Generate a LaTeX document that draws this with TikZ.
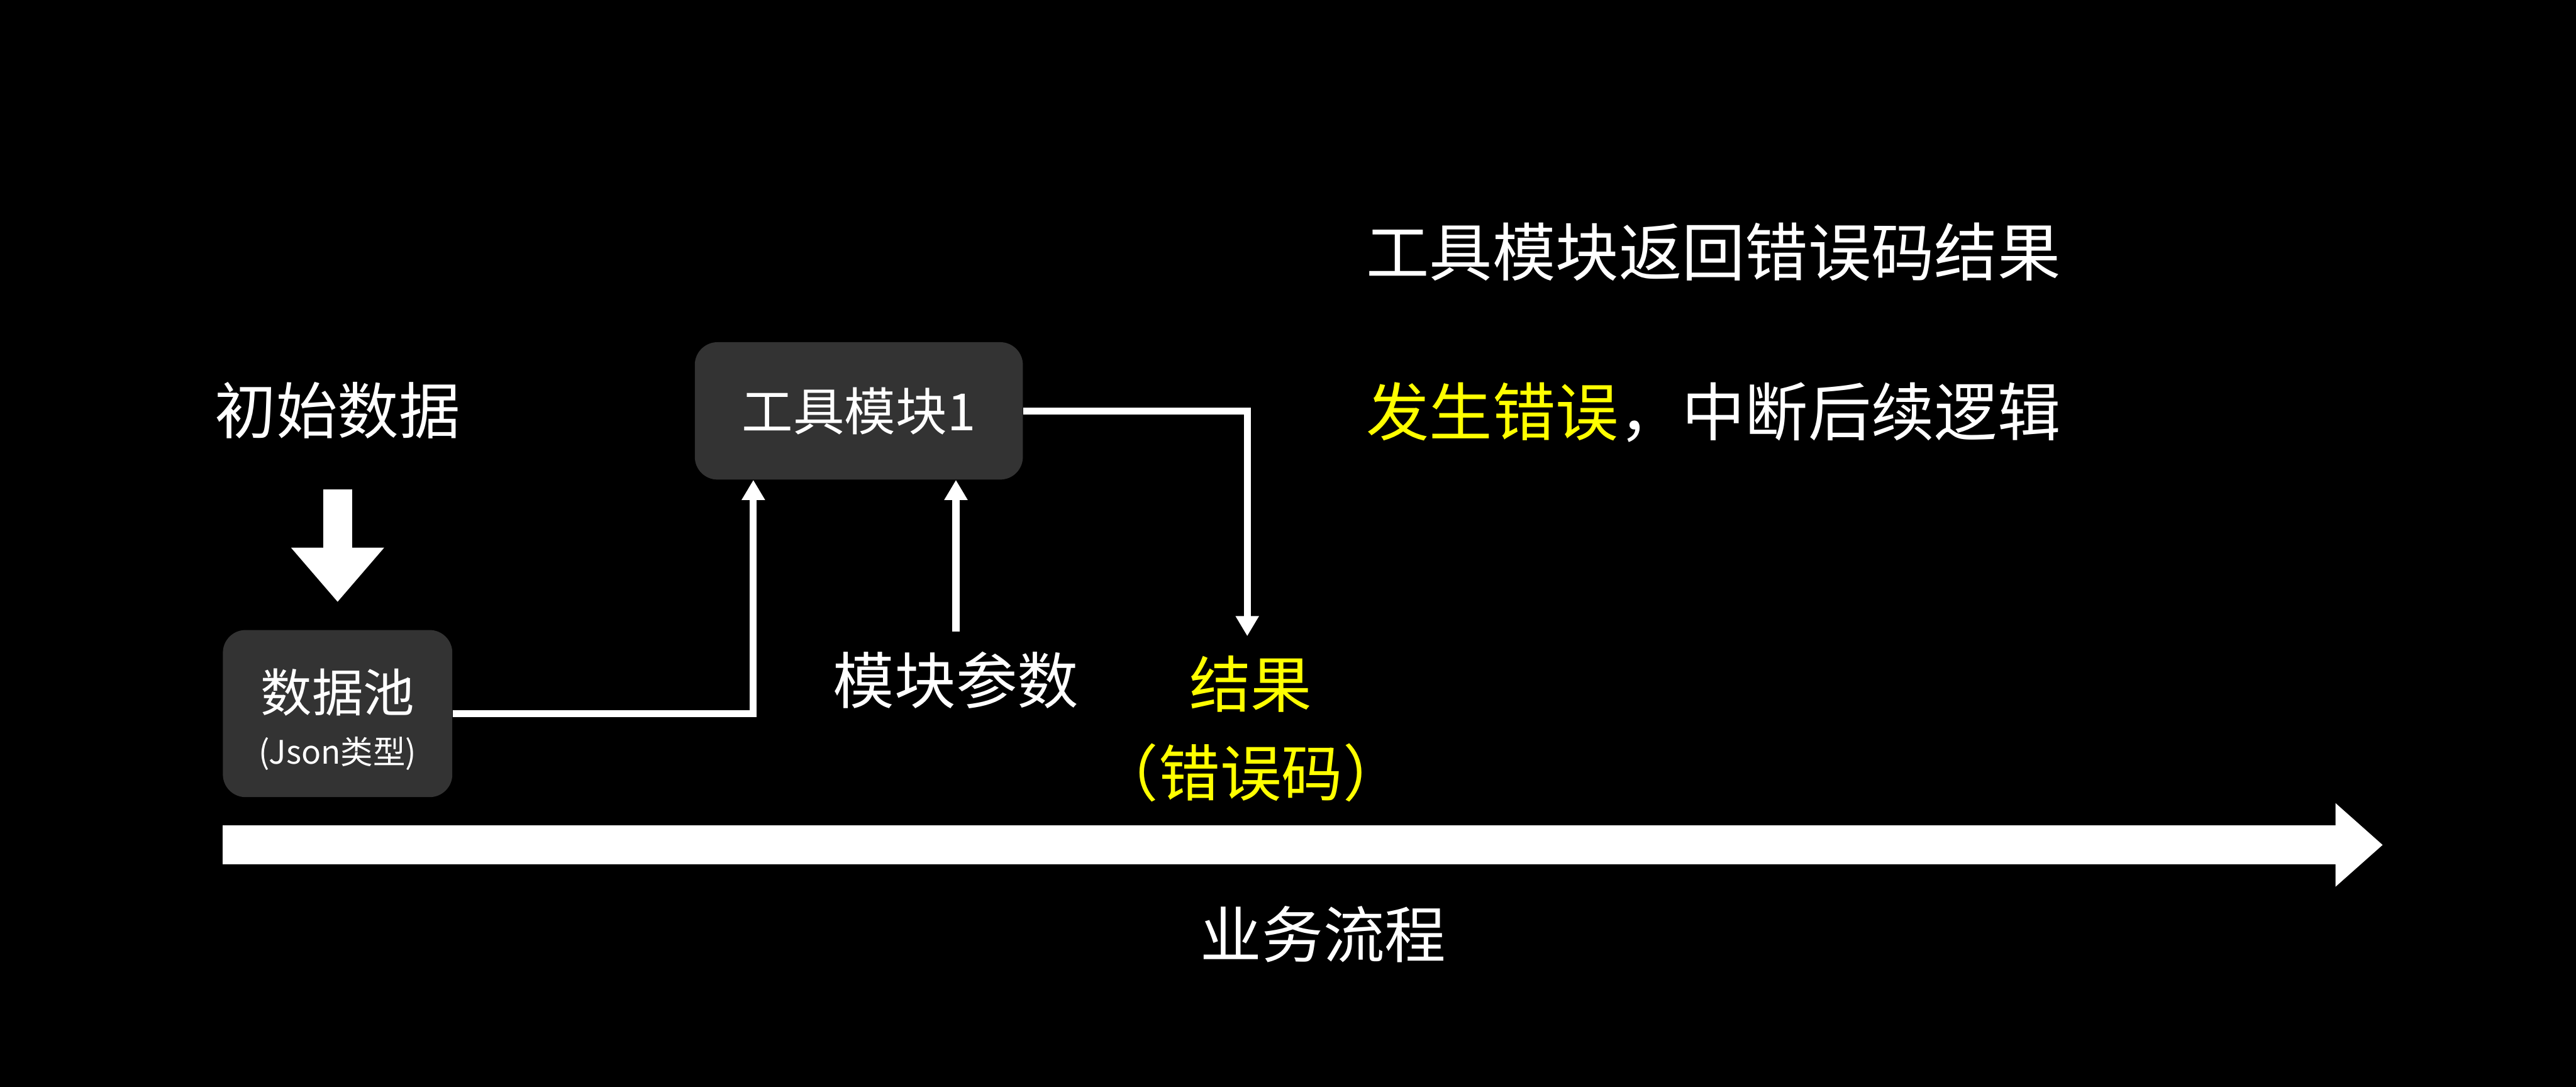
\documentclass[tikz,border=0pt]{standalone}
\usepackage{fontspec}
\setmainfont{Noto Sans CJK SC}
\usepackage{xcolor}
\usepackage{tikz}
\usetikzlibrary{
  arrows.meta,
  positioning
}
\definecolor{BoxGray}{RGB}{51, 51, 51}
\definecolor{ErrYellow}{RGB}{255, 255, 0}
\newcommand{\bigfont}{\fontsize{34.7}{40}\selectfont}
\newcommand{\notefont}{\fontsize{35.7}{41}\selectfont}
\newcommand{\boxfont}{\fontsize{29}{34}\selectfont}
\newcommand{\smallfont}{\fontsize{18.3}{22}\selectfont}

\begin{document}
\begin{tikzpicture}[
    modulebox/.style={rectangle, fill=BoxGray, rounded corners=0.45cm, inner sep=0pt},
    label/.style={text=white, inner sep=0pt, font=\bigfont},
    flowline/.style={draw=white, line width=0.14cm, -{Triangle[length=0.4cm, width=0.44cm]}},
    fatarrow/.style={draw=white, line width=#1}
  ]
  % canvas
  \fill[black] (0,0) rectangle (51.2,21.6);
  \useasboundingbox (0,0) rectangle (51.2,21.6);

  % left part: input data
  \node[label] (init) at (6.71,13.44) {初始数据};
  \node[modulebox, minimum width=4.56cm, minimum height=3.32cm] (pool) at (6.71,7.42) {};
  \node[text=white, inner sep=0pt, font=\boxfont] (poolname) at ([yshift=0.42cm]pool.center) {数据池};
  \node[text=white, inner sep=0pt, font=\smallfont] (pooltype) at ([yshift=-0.79cm]pool.center) {(Json类型)};
  \draw[fatarrow=0.58cm, -{Triangle[length=1.08cm, width=1.78cm]}] ([yshift=-0.99cm]init.south) -- ([yshift=0.55cm]pool.north);

  % tool module
  \node[modulebox, minimum width=6.52cm, minimum height=2.73cm, text=white, font=\boxfont] (tool) at (17.07,13.435) {工具模块1};
  \node[label] (param) at (19.00,8.08) {模块参数};
  \node[label, text=ErrYellow] (result) at (24.86,8.01) {结果};
  \node[label, text=ErrYellow] (errcode) at (24.86,6.24) {（错误码）};

  \draw[flowline] (pool.east) -| ([xshift=1.17cm]tool.south west);
  \draw[flowline] ([yshift=0.4cm]param.north) -- (param.north |- tool.south);
  \draw[flowline] (tool.east) -| ([xshift=-0.07cm, yshift=0.38cm]result.north);

  % notes on the right
  \node[label, font=\notefont, anchor=west] (note1) at (27.15,16.60) {工具模块返回错误码结果};
  \node[label, font=\notefont, anchor=west] (note2) at (27.15,13.40) {\textcolor{ErrYellow}{发生错误}，中断后续逻辑};

  % business flow
  \coordinate (flowstart) at (4.43,4.81);
  \coordinate (flowend) at (47.36,4.81);
  \draw[fatarrow=0.78cm, -{Triangle[length=0.94cm, width=1.60cm]}] (flowstart) -- (flowend);
  \node[label] (flowname) at (26.30,3.04) {业务流程};
\end{tikzpicture}
\end{document}
